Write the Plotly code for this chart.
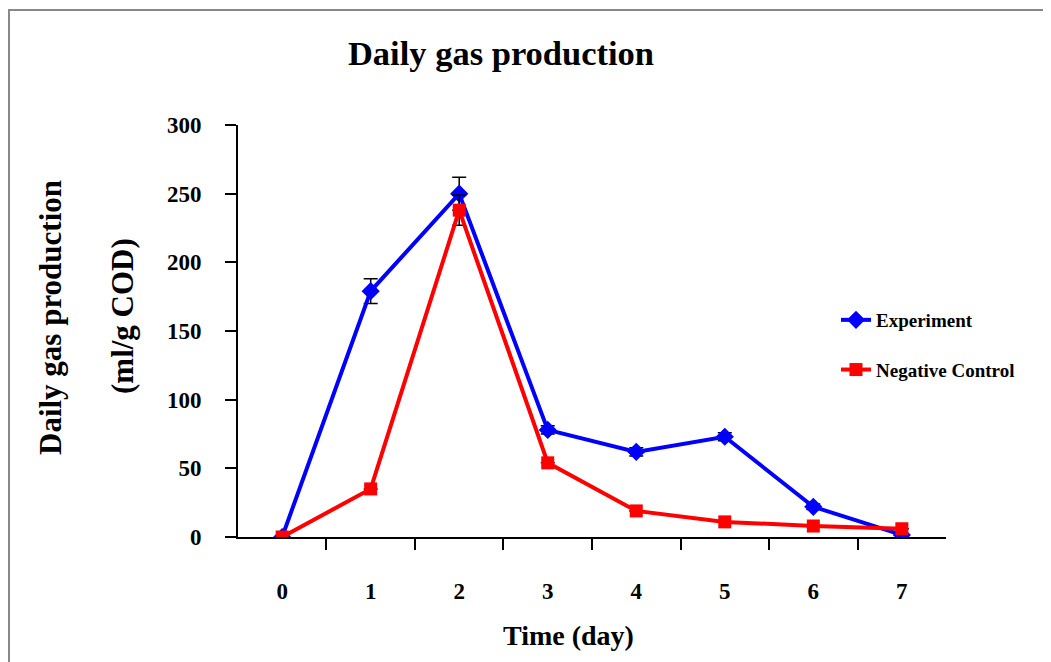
import plotly.graph_objects as go

days = ["0", "1", "2", "3", "4", "5", "6", "7"]
experiment = [0, 179, 250, 78, 62, 73, 22, 1.5]
experiment_err = [0, 9, 12, 3, 3, 3, 2, 0]
negative_control = [0, 35, 238, 54, 19, 11, 8, 6]
negative_control_err = [0, 0, 11, 0, 0, 0, 0, 0]

FONT = "Liberation Serif, Times New Roman, serif"

# page offset from default body margin (8px)
OX, OY = 8, 8
L, R, T, B = 238 - OX, 1051 - 946 + OX, 125 - OY, 662 - 537 + OY
PW, PH = 708, 412


def px(x):  # page x -> paper x
    return (x - 238) / PW


def py(y):  # page y -> paper y
    return (537 - y) / PH


fig = go.Figure()
fig.add_trace(go.Scatter(
    x=days, y=experiment, name="Experiment", mode="lines+markers",
    line=dict(color="#0000FF", width=4),
    marker=dict(symbol="diamond", size=14, color="#0000FF"),
    error_y=dict(type="data", array=experiment_err, color="black", thickness=1.5, width=7),
    legendgroup="a",
))
fig.add_trace(go.Scatter(
    x=days, y=negative_control, name="Negative Control", mode="lines+markers",
    line=dict(color="#FF0000", width=4),
    marker=dict(symbol="square", size=13, color="#FF0000"),
    error_y=dict(type="data", array=negative_control_err, color="black", thickness=1.5, width=7),
    legendgroup="b",
))

fig.update_layout(
    width=1051, height=662,
    margin=dict(l=L, r=R, t=T, b=B, autoexpand=False),
    paper_bgcolor="white", plot_bgcolor="white",
    font=dict(family=FONT, color="black"),
    title=dict(text="<b>Daily gas production</b>", x=(501 - OX) / 1051, xanchor="center",
               y=1 - (53 - OY) / 662, yanchor="middle", font=dict(size=34.5, family=FONT)),
    legend=dict(x=px(836), xanchor="left", y=py(301), yanchor="top",
                font=dict(size=19, family=FONT, weight="bold"),
                tracegroupgap=22, traceorder="grouped", bgcolor="rgba(0,0,0,0)"),
    showlegend=True,
    annotations=[
        dict(text="<b>Daily gas production</b>", xref="paper", yref="paper",
             x=px(50), y=py(318), textangle=-90, showarrow=False,
             xanchor="center", yanchor="middle", font=dict(size=31, family=FONT)),
        dict(text="<b>(ml/g COD)</b>", xref="paper", yref="paper",
             x=px(122), y=py(316), textangle=-90, showarrow=False,
             xanchor="center", yanchor="middle", font=dict(size=31, family=FONT)),
        dict(text="<b>Time (day)</b>", xref="paper", yref="paper",
             x=px(568), y=py(635), showarrow=False,
             xanchor="center", yanchor="middle", font=dict(size=28, family=FONT)),
    ],
)
fig.update_xaxes(
    type="category", tickson="boundaries", ticks="outside", ticklen=11, tickwidth=2,
    tickcolor="black", showline=True, linecolor="black", linewidth=2,
    showgrid=False, zeroline=False,
    tickfont=dict(size=23, family=FONT, weight="bold"), ticklabelstandoff=32,
)
fig.update_yaxes(
    range=[0, 300], tickvals=[0, 50, 100, 150, 200, 250, 300],
    ticks="outside", ticklen=11, tickwidth=2, tickcolor="black",
    showline=True, linecolor="black", linewidth=2,
    showgrid=False, zeroline=False,
    tickfont=dict(size=23, family=FONT, weight="bold"), ticklabelstandoff=19,
)
fig.add_shape(type="rect", xref="paper", yref="paper",
              x0=px(9), x1=1.4, y0=-0.5, y1=py(10),
              line=dict(color="#888888", width=2), layer="below")

fig.write_html("out.html")
